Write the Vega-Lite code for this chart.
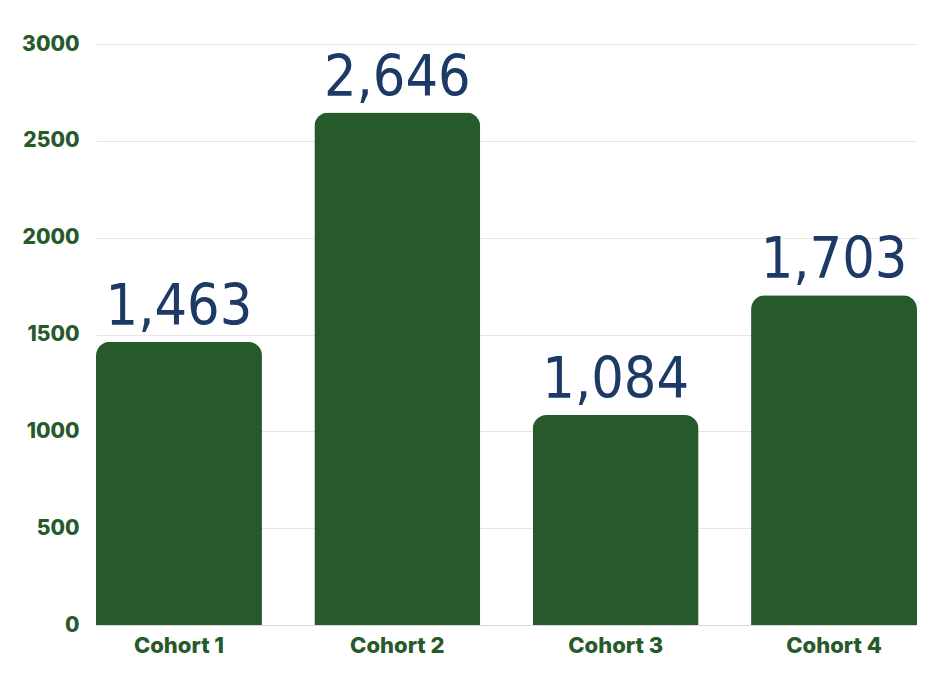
{
  "$schema": "https://vega.github.io/schema/vega-lite/v6.json",
  "width": 821,
  "height": 581,
  "autosize": {"type": "none"},
  "padding": {"left": 96, "top": 44, "right": 23, "bottom": 49},
  "background": "white",
  "config": {"view": {"stroke": null}},
  "data": {
    "values": [
      {"cohort": "Cohort 1", "count": 1463},
      {"cohort": "Cohort 2", "count": 2646},
      {"cohort": "Cohort 3", "count": 1084},
      {"cohort": "Cohort 4", "count": 1703}
    ]
  },
  "encoding": {
    "x": {
      "field": "cohort",
      "type": "nominal",
      "sort": null,
      "scale": {"paddingInner": 0.24, "paddingOuter": 0},
      "axis": {
        "title": null,
        "labelAngle": 0,
        "labelFont": "Inter",
        "labelFontWeight": 800,
        "labelFontSize": 22,
        "labelColor": "#265A2B",
        "labelPadding": 10,
        "ticks": false,
        "domainColor": "#d9d9d9",
        "domainWidth": 1
      }
    },
    "y": {
      "field": "count",
      "type": "quantitative",
      "scale": {"domain": [0, 3000], "nice": false},
      "axis": {
        "title": null,
        "values": [0, 500, 1000, 1500, 2000, 2500, 3000],
        "format": "d",
        "labelFont": "Inter",
        "labelFontWeight": 800,
        "labelFontSize": 21,
        "labelColor": "#265A2B",
        "labelPadding": 17,
        "ticks": false,
        "domain": false,
        "grid": true,
        "gridColor": "#e6e6e6",
        "gridWidth": 1
      }
    }
  },
  "layer": [
    {
      "mark": {
        "type": "bar",
        "color": "#265A2B",
        "cornerRadiusTopLeft": 14,
        "cornerRadiusTopRight": 14
      }
    },
    {
      "mark": {
        "type": "text",
        "font": "DejaVu Sans Condensed, sans-serif",
        "fontSize": 57,
        "color": "#1D3A66",
        "baseline": "alphabetic",
        "dy": -17
      },
      "encoding": {
        "text": {"field": "count", "type": "quantitative", "format": ","}
      }
    }
  ]
}
